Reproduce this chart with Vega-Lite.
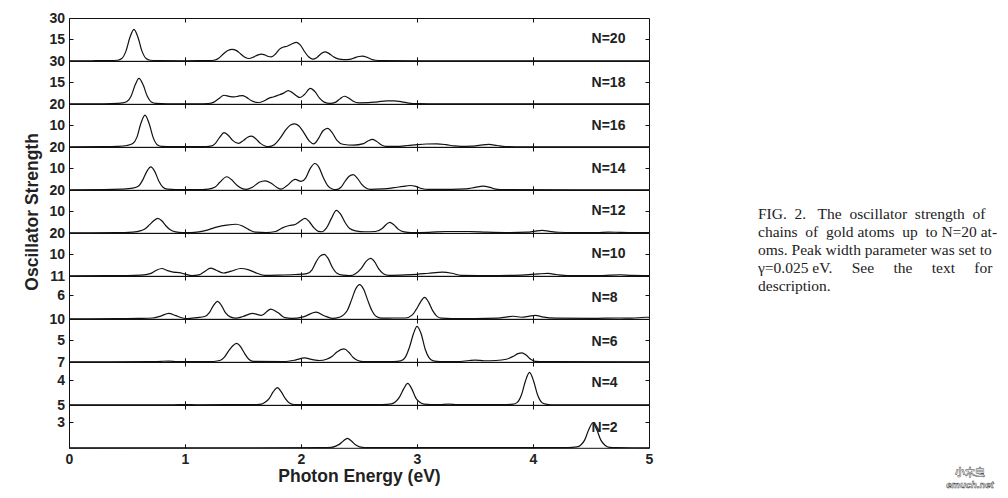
{
  "$schema": "https://vega.github.io/schema/vega-lite/v6.json",
  "background": "white",
  "padding": {"left": 23, "top": 10, "right": 0, "bottom": 0},
  "spacing": 104,
  "bounds": "full",
  "datasets": {
    "n20": [{"e":0,"f":0},{"e":0.2,"f":0.05},{"e":0.35,"f":0.15},{"e":0.42,"f":0.4},{"e":0.455,"f":1.6},{"e":0.49,"f":6.6},{"e":0.525,"f":16.3},{"e":0.56,"f":22},{"e":0.595,"f":16.3},{"e":0.63,"f":6.6},{"e":0.665,"f":1.6},{"e":0.7,"f":0.4},{"e":0.76,"f":0.1},{"e":1.0,"f":0.05},{"e":1.2,"f":0.1},{"e":1.25,"f":0.4},{"e":1.29,"f":1.8},{"e":1.33,"f":4.8},{"e":1.37,"f":7.2},{"e":1.406,"f":8.0},{"e":1.44,"f":7.3},{"e":1.48,"f":4.8},{"e":1.52,"f":2.3},{"e":1.55,"f":1.6},{"e":1.59,"f":2.6},{"e":1.63,"f":4.2},{"e":1.66,"f":4.7},{"e":1.69,"f":4.1},{"e":1.72,"f":3.0},{"e":1.745,"f":2.8},{"e":1.78,"f":4.8},{"e":1.815,"f":8.2},{"e":1.85,"f":9.7},{"e":1.88,"f":10.2},{"e":1.92,"f":11.8},{"e":1.96,"f":12.9},{"e":1.995,"f":11},{"e":2.03,"f":6.5},{"e":2.065,"f":2.8},{"e":2.1,"f":1.2},{"e":2.135,"f":2.2},{"e":2.17,"f":4.8},{"e":2.206,"f":6.3},{"e":2.24,"f":5.2},{"e":2.28,"f":2.8},{"e":2.32,"f":1.3},{"e":2.37,"f":0.8},{"e":2.42,"f":1.0},{"e":2.46,"f":2.0},{"e":2.5,"f":3.0},{"e":2.53,"f":3.3},{"e":2.565,"f":2.6},{"e":2.6,"f":1.3},{"e":2.64,"f":0.4},{"e":2.7,"f":0.1},{"e":3.0,"f":0.03},{"e":5,"f":0}],
    "n18": [{"e":0,"f":0},{"e":0.3,"f":0.05},{"e":0.42,"f":0.3},{"e":0.46,"f":0.6},{"e":0.5,"f":1.6},{"e":0.535,"f":5.3},{"e":0.57,"f":13.1},{"e":0.603,"f":17.8},{"e":0.64,"f":13.1},{"e":0.675,"f":5.3},{"e":0.71,"f":1.3},{"e":0.75,"f":0.3},{"e":0.85,"f":0.05},{"e":1.1,"f":0.05},{"e":1.2,"f":0.2},{"e":1.25,"f":1.2},{"e":1.29,"f":3.5},{"e":1.336,"f":6.0},{"e":1.38,"f":5.2},{"e":1.425,"f":4.8},{"e":1.46,"f":5.4},{"e":1.495,"f":5.8},{"e":1.53,"f":4.5},{"e":1.57,"f":2.3},{"e":1.63,"f":0.9},{"e":1.68,"f":2.0},{"e":1.72,"f":3.8},{"e":1.76,"f":4.8},{"e":1.8,"f":5.9},{"e":1.85,"f":7.5},{"e":1.89,"f":9.3},{"e":1.93,"f":7.5},{"e":1.99,"f":4.4},{"e":2.03,"f":6.5},{"e":2.08,"f":10.8},{"e":2.12,"f":8.5},{"e":2.16,"f":4.0},{"e":2.2,"f":1.2},{"e":2.25,"f":0.3},{"e":2.3,"f":1.2},{"e":2.34,"f":3.8},{"e":2.375,"f":5.3},{"e":2.41,"f":4.0},{"e":2.45,"f":1.8},{"e":2.5,"f":0.7},{"e":2.58,"f":0.8},{"e":2.66,"f":1.4},{"e":2.74,"f":2.0},{"e":2.8,"f":2.0},{"e":2.87,"f":1.4},{"e":2.93,"f":0.5},{"e":2.99,"f":0.1},{"e":3.1,"f":0.02},{"e":5,"f":0}],
    "n16": [{"e":0,"f":0},{"e":0.3,"f":0.05},{"e":0.42,"f":0.2},{"e":0.5,"f":0.6},{"e":0.55,"f":1.5},{"e":0.585,"f":4.4},{"e":0.62,"f":11},{"e":0.655,"f":14.8},{"e":0.69,"f":11},{"e":0.725,"f":4.4},{"e":0.76,"f":1.0},{"e":0.8,"f":0.2},{"e":0.9,"f":0.05},{"e":1.15,"f":0.05},{"e":1.22,"f":0.3},{"e":1.26,"f":1.5},{"e":1.3,"f":4.5},{"e":1.336,"f":6.6},{"e":1.37,"f":5.5},{"e":1.41,"f":3.0},{"e":1.46,"f":1.6},{"e":1.505,"f":3.0},{"e":1.54,"f":4.5},{"e":1.575,"f":5.0},{"e":1.61,"f":3.8},{"e":1.65,"f":1.6},{"e":1.69,"f":0.4},{"e":1.72,"f":0.1},{"e":1.77,"f":1.0},{"e":1.82,"f":4.0},{"e":1.87,"f":8.0},{"e":1.91,"f":10.2},{"e":1.946,"f":10.7},{"e":1.98,"f":9.8},{"e":2.02,"f":7.0},{"e":2.07,"f":2.8},{"e":2.11,"f":1.4},{"e":2.15,"f":3.8},{"e":2.19,"f":7.5},{"e":2.23,"f":8.6},{"e":2.27,"f":6.5},{"e":2.31,"f":3.0},{"e":2.36,"f":1.2},{"e":2.45,"f":0.8},{"e":2.54,"f":1.5},{"e":2.58,"f":2.8},{"e":2.616,"f":3.5},{"e":2.65,"f":2.6},{"e":2.69,"f":1.0},{"e":2.73,"f":0.2},{"e":2.82,"f":0.2},{"e":2.92,"f":0.6},{"e":3.0,"f":1.0},{"e":3.08,"f":1.3},{"e":3.17,"f":1.4},{"e":3.25,"f":1.0},{"e":3.32,"f":0.4},{"e":3.38,"f":0.2},{"e":3.47,"f":0.3},{"e":3.55,"f":0.8},{"e":3.62,"f":1.1},{"e":3.69,"f":0.6},{"e":3.76,"f":0.1},{"e":3.85,"f":0.02},{"e":5,"f":0}],
    "n14": [{"e":0,"f":0},{"e":0.3,"f":0.05},{"e":0.45,"f":0.3},{"e":0.55,"f":0.8},{"e":0.6,"f":1.8},{"e":0.635,"f":4.5},{"e":0.67,"f":8.5},{"e":0.705,"f":10.7},{"e":0.74,"f":8.5},{"e":0.775,"f":4.0},{"e":0.81,"f":1.2},{"e":0.85,"f":0.3},{"e":0.92,"f":0.1},{"e":1.1,"f":0.05},{"e":1.2,"f":0.3},{"e":1.26,"f":1.3},{"e":1.3,"f":3.5},{"e":1.36,"f":6.1},{"e":1.4,"f":4.8},{"e":1.45,"f":2.0},{"e":1.5,"f":0.4},{"e":1.53,"f":0.2},{"e":1.58,"f":1.2},{"e":1.64,"f":3.5},{"e":1.69,"f":4.2},{"e":1.74,"f":3.2},{"e":1.79,"f":1.2},{"e":1.83,"f":0.3},{"e":1.88,"f":2.0},{"e":1.95,"f":4.9},{"e":2.0,"f":3.9},{"e":2.04,"f":5.5},{"e":2.08,"f":10},{"e":2.12,"f":12.3},{"e":2.155,"f":10.5},{"e":2.19,"f":6.0},{"e":2.23,"f":2.0},{"e":2.27,"f":0.4},{"e":2.3,"f":0.1},{"e":2.345,"f":1.2},{"e":2.38,"f":4.0},{"e":2.415,"f":6.3},{"e":2.45,"f":7.1},{"e":2.485,"f":5.5},{"e":2.52,"f":2.8},{"e":2.56,"f":0.8},{"e":2.6,"f":0.2},{"e":2.7,"f":0.4},{"e":2.8,"f":1.0},{"e":2.88,"f":1.6},{"e":2.94,"f":2.0},{"e":2.99,"f":1.6},{"e":3.04,"f":0.6},{"e":3.1,"f":0.2},{"e":3.3,"f":0.2},{"e":3.42,"f":0.4},{"e":3.5,"f":1.1},{"e":3.57,"f":1.7},{"e":3.63,"f":1.1},{"e":3.68,"f":0.3},{"e":3.75,"f":0.05},{"e":5,"f":0}],
    "n12": [{"e":0,"f":0},{"e":0.4,"f":0.05},{"e":0.55,"f":0.3},{"e":0.62,"f":1.0},{"e":0.66,"f":2.0},{"e":0.695,"f":3.8},{"e":0.73,"f":5.6},{"e":0.765,"f":6.7},{"e":0.8,"f":5.6},{"e":0.835,"f":3.3},{"e":0.87,"f":1.5},{"e":0.92,"f":0.4},{"e":0.98,"f":0.1},{"e":1.05,"f":0.05},{"e":1.12,"f":0.4},{"e":1.2,"f":1.4},{"e":1.28,"f":2.8},{"e":1.36,"f":3.6},{"e":1.44,"f":4.0},{"e":1.49,"f":3.3},{"e":1.55,"f":1.5},{"e":1.61,"f":0.3},{"e":1.7,"f":0.1},{"e":1.78,"f":0.6},{"e":1.84,"f":2.3},{"e":1.9,"f":3.4},{"e":1.95,"f":3.9},{"e":1.995,"f":5.5},{"e":2.035,"f":6.7},{"e":2.07,"f":5.3},{"e":2.11,"f":2.4},{"e":2.15,"f":0.7},{"e":2.18,"f":0.5},{"e":2.22,"f":2.3},{"e":2.26,"f":6.5},{"e":2.305,"f":10.5},{"e":2.34,"f":8.8},{"e":2.38,"f":4.8},{"e":2.42,"f":2.0},{"e":2.47,"f":0.9},{"e":2.55,"f":0.5},{"e":2.64,"f":0.6},{"e":2.7,"f":2.0},{"e":2.735,"f":3.9},{"e":2.765,"f":4.9},{"e":2.8,"f":3.8},{"e":2.84,"f":1.6},{"e":2.89,"f":0.4},{"e":2.95,"f":0.1},{"e":3.1,"f":0.2},{"e":3.25,"f":0.6},{"e":3.45,"f":0.6},{"e":3.6,"f":0.3},{"e":3.8,"f":0.1},{"e":3.95,"f":0.3},{"e":4.02,"f":0.8},{"e":4.08,"f":1.1},{"e":4.14,"f":0.7},{"e":4.22,"f":0.25},{"e":4.35,"f":0.1},{"e":4.55,"f":0.1},{"e":4.65,"f":0.35},{"e":4.75,"f":0.2},{"e":4.9,"f":0.1},{"e":5,"f":0.1}],
    "n10": [{"e":0,"f":0},{"e":0.5,"f":0.1},{"e":0.62,"f":0.3},{"e":0.7,"f":1.0},{"e":0.75,"f":2.5},{"e":0.8,"f":3.4},{"e":0.85,"f":2.4},{"e":0.9,"f":1.7},{"e":0.95,"f":1.5},{"e":1.0,"f":0.8},{"e":1.06,"f":0.1},{"e":1.12,"f":0.4},{"e":1.17,"f":2.0},{"e":1.22,"f":3.6},{"e":1.27,"f":2.6},{"e":1.33,"f":1.3},{"e":1.4,"f":2.2},{"e":1.48,"f":3.4},{"e":1.55,"f":2.8},{"e":1.62,"f":1.2},{"e":1.69,"f":0.2},{"e":1.8,"f":0.3},{"e":1.95,"f":0.6},{"e":2.05,"f":1.0},{"e":2.095,"f":2.8},{"e":2.13,"f":6.5},{"e":2.165,"f":9.2},{"e":2.2,"f":10.0},{"e":2.235,"f":8.0},{"e":2.27,"f":4.0},{"e":2.31,"f":1.2},{"e":2.36,"f":0.3},{"e":2.42,"f":0.1},{"e":2.47,"f":1.0},{"e":2.52,"f":3.5},{"e":2.565,"f":7.0},{"e":2.6,"f":8.1},{"e":2.635,"f":6.5},{"e":2.67,"f":3.2},{"e":2.71,"f":1.0},{"e":2.76,"f":0.2},{"e":2.9,"f":0.4},{"e":3.0,"f":0.7},{"e":3.1,"f":1.2},{"e":3.22,"f":1.7},{"e":3.3,"f":1.2},{"e":3.38,"f":0.2},{"e":3.6,"f":0.1},{"e":3.9,"f":0.3},{"e":4.05,"f":0.9},{"e":4.13,"f":1.1},{"e":4.2,"f":0.6},{"e":4.3,"f":0.1},{"e":4.6,"f":0.1},{"e":4.75,"f":0.5},{"e":4.85,"f":0.2},{"e":5,"f":0.1}],
    "n8": [{"e":0,"f":0},{"e":0.4,"f":0.02},{"e":0.6,"f":0.1},{"e":0.72,"f":0.2},{"e":0.79,"f":0.7},{"e":0.86,"f":1.4},{"e":0.92,"f":0.8},{"e":0.98,"f":0.2},{"e":1.02,"f":0.05},{"e":1.1,"f":0.3},{"e":1.17,"f":0.6},{"e":1.21,"f":1.6},{"e":1.245,"f":3.4},{"e":1.28,"f":4.5},{"e":1.315,"f":3.4},{"e":1.35,"f":1.5},{"e":1.39,"f":0.5},{"e":1.44,"f":0.15},{"e":1.5,"f":0.6},{"e":1.58,"f":1.4},{"e":1.66,"f":0.9},{"e":1.74,"f":2.5},{"e":1.8,"f":1.6},{"e":1.86,"f":0.3},{"e":1.92,"f":0.1},{"e":2.02,"f":0.5},{"e":2.13,"f":1.7},{"e":2.2,"f":0.8},{"e":2.27,"f":0.1},{"e":2.33,"f":0.4},{"e":2.4,"f":2.2},{"e":2.435,"f":4.8},{"e":2.47,"f":7.6},{"e":2.505,"f":8.8},{"e":2.54,"f":7.6},{"e":2.575,"f":4.8},{"e":2.61,"f":2.2},{"e":2.65,"f":0.6},{"e":2.7,"f":0.15},{"e":2.8,"f":0.2},{"e":2.9,"f":0.2},{"e":2.96,"f":1.0},{"e":2.995,"f":2.5},{"e":3.03,"f":4.3},{"e":3.065,"f":5.5},{"e":3.1,"f":4.3},{"e":3.135,"f":2.1},{"e":3.17,"f":0.7},{"e":3.21,"f":0.15},{"e":3.3,"f":0.05},{"e":3.5,"f":0.05},{"e":3.7,"f":0.15},{"e":3.78,"f":0.5},{"e":3.83,"f":0.65},{"e":3.9,"f":0.4},{"e":3.96,"f":0.6},{"e":4.02,"f":0.9},{"e":4.08,"f":0.5},{"e":4.2,"f":0.15},{"e":4.5,"f":0.1},{"e":4.75,"f":0.2},{"e":4.85,"f":0.15},{"e":4.97,"f":0.4},{"e":5,"f":0.4}],
    "n6": [{"e":0,"f":0},{"e":0.7,"f":0.02},{"e":0.8,"f":0.12},{"e":0.86,"f":0.15},{"e":0.93,"f":0.05},{"e":1.2,"f":0.02},{"e":1.3,"f":0.3},{"e":1.34,"f":1.1},{"e":1.375,"f":2.5},{"e":1.41,"f":3.7},{"e":1.445,"f":4.3},{"e":1.48,"f":3.5},{"e":1.515,"f":1.9},{"e":1.55,"f":0.6},{"e":1.59,"f":0.1},{"e":1.85,"f":0.05},{"e":1.95,"f":0.4},{"e":2.03,"f":0.9},{"e":2.1,"f":0.5},{"e":2.16,"f":0.3},{"e":2.22,"f":0.6},{"e":2.27,"f":1.3},{"e":2.31,"f":2.3},{"e":2.37,"f":3.0},{"e":2.41,"f":2.3},{"e":2.45,"f":1.0},{"e":2.49,"f":0.3},{"e":2.54,"f":0.02},{"e":2.8,"f":0.02},{"e":2.86,"f":0.2},{"e":2.9,"f":1.1},{"e":2.935,"f":3.4},{"e":2.97,"f":6.6},{"e":3.0,"f":8.3},{"e":3.035,"f":6.6},{"e":3.07,"f":3.0},{"e":3.105,"f":0.9},{"e":3.14,"f":0.2},{"e":3.2,"f":0.02},{"e":3.35,"f":0.05},{"e":3.45,"f":0.3},{"e":3.5,"f":0.4},{"e":3.58,"f":0.25},{"e":3.68,"f":0.3},{"e":3.77,"f":0.6},{"e":3.83,"f":1.3},{"e":3.87,"f":1.9},{"e":3.905,"f":2.1},{"e":3.94,"f":1.6},{"e":3.98,"f":0.6},{"e":4.02,"f":0.1},{"e":4.1,"f":0.02},{"e":5,"f":0}],
    "n4": [{"e":0,"f":0},{"e":0.9,"f":0.01},{"e":1.0,"f":0.05},{"e":1.1,"f":0.01},{"e":1.62,"f":0.02},{"e":1.66,"f":0.1},{"e":1.69,"f":0.4},{"e":1.725,"f":1.0},{"e":1.76,"f":2.1},{"e":1.797,"f":2.8},{"e":1.83,"f":2.1},{"e":1.865,"f":1.0},{"e":1.9,"f":0.3},{"e":1.94,"f":0.05},{"e":2.7,"f":0.02},{"e":2.78,"f":0.15},{"e":2.815,"f":0.5},{"e":2.85,"f":1.3},{"e":2.885,"f":2.6},{"e":2.92,"f":3.5},{"e":2.955,"f":2.6},{"e":2.99,"f":1.1},{"e":3.025,"f":0.4},{"e":3.06,"f":0.1},{"e":3.12,"f":0.02},{"e":3.2,"f":0.05},{"e":3.27,"f":0.12},{"e":3.35,"f":0.03},{"e":3.75,"f":0.02},{"e":3.83,"f":0.1},{"e":3.865,"f":0.4},{"e":3.9,"f":1.6},{"e":3.935,"f":3.9},{"e":3.97,"f":5.3},{"e":4.005,"f":3.9},{"e":4.04,"f":1.6},{"e":4.075,"f":0.4},{"e":4.11,"f":0.1},{"e":4.16,"f":0.01},{"e":5,"f":0}],
    "n2": [{"e":0,"f":0},{"e":2.2,"f":0.01},{"e":2.26,"f":0.05},{"e":2.3,"f":0.2},{"e":2.33,"f":0.4},{"e":2.365,"f":0.8},{"e":2.4,"f":1.1},{"e":2.435,"f":0.8},{"e":2.47,"f":0.35},{"e":2.505,"f":0.1},{"e":2.55,"f":0.01},{"e":4.3,"f":0.01},{"e":4.38,"f":0.1},{"e":4.41,"f":0.3},{"e":4.445,"f":0.9},{"e":4.48,"f":2.1},{"e":4.515,"f":2.9},{"e":4.55,"f":2.1},{"e":4.585,"f":0.9},{"e":4.62,"f":0.3},{"e":4.66,"f":0.05},{"e":4.72,"f":0.01},{"e":5,"f":0}]
  },
  "hconcat": [
    {
      "spacing": 0,
      "bounds": "flush",
      "vconcat": [
        {"height": 42.8, "width": 580, "data": {"name": "n20"},
         "layer": [
          {"mark": {"type": "line", "interpolate": "monotone", "color": "#111", "strokeWidth": 1.2},
           "encoding": {
            "x": {"field": "e", "type": "quantitative", "scale": {"domain": [0, 5], "nice": false}, "axis": {"values": [1,2,3,4], "labels": false, "tickSize": -4, "domain": false, "grid": false, "title": null}},
            "y": {"field": "f", "type": "quantitative", "scale": {"domain": [0, 30], "nice": false}, "axis": {"values": [15, 30], "tickSize": -4, "labelPadding": 8.5, "domain": false, "grid": false, "title": null}}}},
          {"mark": {"type": "point", "opacity": 0},
           "encoding": {
            "x": {"field": "e", "type": "quantitative", "scale": {"domain": [0, 5], "nice": false}, "axis": {"orient": "top", "values": [1,2,3,4], "labels": false, "tickSize": -4, "domain": false, "grid": false, "title": null}},
            "y": {"field": "f", "type": "quantitative", "scale": {"domain": [0, 30], "nice": false}, "axis": {"orient": "right", "values": [15], "labels": false, "tickSize": -4, "domain": false, "grid": false, "title": null}}}},
          {"data": {"values": [{}]},
           "mark": {"type": "text", "align": "left", "baseline": "middle", "fontSize": 14, "fontWeight": "bold", "font": "Liberation Sans", "color": "#222"},
           "encoding": {"x": {"datum": 4.505, "type": "quantitative", "axis": null}, "y": {"datum": 15, "type": "quantitative", "axis": null}, "text": {"value": "N=20"}}}
         ],
         "resolve": {"axis": {"x": "independent", "y": "independent"}}},
        {"height": 42.8, "width": 580, "data": {"name": "n18"},
         "layer": [
          {"mark": {"type": "line", "interpolate": "monotone", "color": "#111", "strokeWidth": 1.2},
           "encoding": {
            "x": {"field": "e", "type": "quantitative", "scale": {"domain": [0, 5], "nice": false}, "axis": {"values": [1,2,3,4], "labels": false, "tickSize": -4, "domain": false, "grid": false, "title": null}},
            "y": {"field": "f", "type": "quantitative", "scale": {"domain": [0, 30], "nice": false}, "axis": {"values": [15, 30], "tickSize": -4, "labelPadding": 8.5, "domain": false, "grid": false, "title": null}}}},
          {"mark": {"type": "point", "opacity": 0},
           "encoding": {
            "x": {"field": "e", "type": "quantitative", "scale": {"domain": [0, 5], "nice": false}, "axis": {"orient": "top", "values": [1,2,3,4], "labels": false, "tickSize": -4, "domain": false, "grid": false, "title": null}},
            "y": {"field": "f", "type": "quantitative", "scale": {"domain": [0, 30], "nice": false}, "axis": {"orient": "right", "values": [15], "labels": false, "tickSize": -4, "domain": false, "grid": false, "title": null}}}},
          {"data": {"values": [{}]},
           "mark": {"type": "text", "align": "left", "baseline": "middle", "fontSize": 14, "fontWeight": "bold", "font": "Liberation Sans", "color": "#222"},
           "encoding": {"x": {"datum": 4.505, "type": "quantitative", "axis": null}, "y": {"datum": 14.9, "type": "quantitative", "axis": null}, "text": {"value": "N=18"}}}
         ],
         "resolve": {"axis": {"x": "independent", "y": "independent"}}},
        {"height": 42.8, "width": 580, "data": {"name": "n16"},
         "layer": [
          {"mark": {"type": "line", "interpolate": "monotone", "color": "#111", "strokeWidth": 1.2},
           "encoding": {
            "x": {"field": "e", "type": "quantitative", "scale": {"domain": [0, 5], "nice": false}, "axis": {"values": [1,2,3,4], "labels": false, "tickSize": -4, "domain": false, "grid": false, "title": null}},
            "y": {"field": "f", "type": "quantitative", "scale": {"domain": [0, 20], "nice": false}, "axis": {"values": [10, 20], "tickSize": -4, "labelPadding": 8.5, "domain": false, "grid": false, "title": null}}}},
          {"mark": {"type": "point", "opacity": 0},
           "encoding": {
            "x": {"field": "e", "type": "quantitative", "scale": {"domain": [0, 5], "nice": false}, "axis": {"orient": "top", "values": [1,2,3,4], "labels": false, "tickSize": -4, "domain": false, "grid": false, "title": null}},
            "y": {"field": "f", "type": "quantitative", "scale": {"domain": [0, 20], "nice": false}, "axis": {"orient": "right", "values": [10], "labels": false, "tickSize": -4, "domain": false, "grid": false, "title": null}}}},
          {"data": {"values": [{}]},
           "mark": {"type": "text", "align": "left", "baseline": "middle", "fontSize": 14, "fontWeight": "bold", "font": "Liberation Sans", "color": "#222"},
           "encoding": {"x": {"datum": 4.505, "type": "quantitative", "axis": null}, "y": {"datum": 9.9, "type": "quantitative", "axis": null}, "text": {"value": "N=16"}}}
         ],
         "resolve": {"axis": {"x": "independent", "y": "independent"}}},
        {"height": 42.8, "width": 580, "data": {"name": "n14"},
         "layer": [
          {"mark": {"type": "line", "interpolate": "monotone", "color": "#111", "strokeWidth": 1.2},
           "encoding": {
            "x": {"field": "e", "type": "quantitative", "scale": {"domain": [0, 5], "nice": false}, "axis": {"values": [1,2,3,4], "labels": false, "tickSize": -4, "domain": false, "grid": false, "title": null}},
            "y": {"field": "f", "type": "quantitative", "scale": {"domain": [0, 20], "nice": false}, "axis": {"values": [10, 20], "tickSize": -4, "labelPadding": 8.5, "domain": false, "grid": false, "title": null}}}},
          {"mark": {"type": "point", "opacity": 0},
           "encoding": {
            "x": {"field": "e", "type": "quantitative", "scale": {"domain": [0, 5], "nice": false}, "axis": {"orient": "top", "values": [1,2,3,4], "labels": false, "tickSize": -4, "domain": false, "grid": false, "title": null}},
            "y": {"field": "f", "type": "quantitative", "scale": {"domain": [0, 20], "nice": false}, "axis": {"orient": "right", "values": [10], "labels": false, "tickSize": -4, "domain": false, "grid": false, "title": null}}}},
          {"data": {"values": [{}]},
           "mark": {"type": "text", "align": "left", "baseline": "middle", "fontSize": 14, "fontWeight": "bold", "font": "Liberation Sans", "color": "#222"},
           "encoding": {"x": {"datum": 4.505, "type": "quantitative", "axis": null}, "y": {"datum": 9.6, "type": "quantitative", "axis": null}, "text": {"value": "N=14"}}}
         ],
         "resolve": {"axis": {"x": "independent", "y": "independent"}}},
        {"height": 42.8, "width": 580, "data": {"name": "n12"},
         "layer": [
          {"mark": {"type": "line", "interpolate": "monotone", "color": "#111", "strokeWidth": 1.2},
           "encoding": {
            "x": {"field": "e", "type": "quantitative", "scale": {"domain": [0, 5], "nice": false}, "axis": {"values": [1,2,3,4], "labels": false, "tickSize": -4, "domain": false, "grid": false, "title": null}},
            "y": {"field": "f", "type": "quantitative", "scale": {"domain": [0, 20], "nice": false}, "axis": {"values": [10, 20], "tickSize": -4, "labelPadding": 8.5, "domain": false, "grid": false, "title": "Oscillator Strength", "titlePadding": 7}}}},
          {"mark": {"type": "point", "opacity": 0},
           "encoding": {
            "x": {"field": "e", "type": "quantitative", "scale": {"domain": [0, 5], "nice": false}, "axis": {"orient": "top", "values": [1,2,3,4], "labels": false, "tickSize": -4, "domain": false, "grid": false, "title": null}},
            "y": {"field": "f", "type": "quantitative", "scale": {"domain": [0, 20], "nice": false}, "axis": {"orient": "right", "values": [10], "labels": false, "tickSize": -4, "domain": false, "grid": false, "title": null}}}},
          {"data": {"values": [{}]},
           "mark": {"type": "text", "align": "left", "baseline": "middle", "fontSize": 14, "fontWeight": "bold", "font": "Liberation Sans", "color": "#222"},
           "encoding": {"x": {"datum": 4.505, "type": "quantitative", "axis": null}, "y": {"datum": 10.1, "type": "quantitative", "axis": null}, "text": {"value": "N=12"}}}
         ],
         "resolve": {"axis": {"x": "independent", "y": "independent"}}},
        {"height": 42.8, "width": 580, "data": {"name": "n10"},
         "layer": [
          {"mark": {"type": "line", "interpolate": "monotone", "color": "#111", "strokeWidth": 1.2},
           "encoding": {
            "x": {"field": "e", "type": "quantitative", "scale": {"domain": [0, 5], "nice": false}, "axis": {"values": [1,2,3,4], "labels": false, "tickSize": -4, "domain": false, "grid": false, "title": null}},
            "y": {"field": "f", "type": "quantitative", "scale": {"domain": [0, 20], "nice": false}, "axis": {"values": [10, 20], "tickSize": -4, "labelPadding": 8.5, "domain": false, "grid": false, "title": null}}}},
          {"mark": {"type": "point", "opacity": 0},
           "encoding": {
            "x": {"field": "e", "type": "quantitative", "scale": {"domain": [0, 5], "nice": false}, "axis": {"orient": "top", "values": [1,2,3,4], "labels": false, "tickSize": -4, "domain": false, "grid": false, "title": null}},
            "y": {"field": "f", "type": "quantitative", "scale": {"domain": [0, 20], "nice": false}, "axis": {"orient": "right", "values": [10], "labels": false, "tickSize": -4, "domain": false, "grid": false, "title": null}}}},
          {"data": {"values": [{}]},
           "mark": {"type": "text", "align": "left", "baseline": "middle", "fontSize": 14, "fontWeight": "bold", "font": "Liberation Sans", "color": "#222"},
           "encoding": {"x": {"datum": 4.505, "type": "quantitative", "axis": null}, "y": {"datum": 10, "type": "quantitative", "axis": null}, "text": {"value": "N=10"}}}
         ],
         "resolve": {"axis": {"x": "independent", "y": "independent"}}},
        {"height": 42.8, "width": 580, "data": {"name": "n8"},
         "layer": [
          {"mark": {"type": "line", "interpolate": "monotone", "color": "#111", "strokeWidth": 1.2},
           "encoding": {
            "x": {"field": "e", "type": "quantitative", "scale": {"domain": [0, 5], "nice": false}, "axis": {"values": [1,2,3,4], "labels": false, "tickSize": -4, "domain": false, "grid": false, "title": null}},
            "y": {"field": "f", "type": "quantitative", "scale": {"domain": [0, 11], "nice": false}, "axis": {"values": [6, 11], "tickSize": -4, "labelPadding": 8.5, "domain": false, "grid": false, "title": null}}}},
          {"mark": {"type": "point", "opacity": 0},
           "encoding": {
            "x": {"field": "e", "type": "quantitative", "scale": {"domain": [0, 5], "nice": false}, "axis": {"orient": "top", "values": [1,2,3,4], "labels": false, "tickSize": -4, "domain": false, "grid": false, "title": null}},
            "y": {"field": "f", "type": "quantitative", "scale": {"domain": [0, 11], "nice": false}, "axis": {"orient": "right", "values": [6], "labels": false, "tickSize": -4, "domain": false, "grid": false, "title": null}}}},
          {"data": {"values": [{}]},
           "mark": {"type": "text", "align": "left", "baseline": "middle", "fontSize": 14, "fontWeight": "bold", "font": "Liberation Sans", "color": "#222"},
           "encoding": {"x": {"datum": 4.505, "type": "quantitative", "axis": null}, "y": {"datum": 5.4, "type": "quantitative", "axis": null}, "text": {"value": "N=8"}}}
         ],
         "resolve": {"axis": {"x": "independent", "y": "independent"}}},
        {"height": 42.8, "width": 580, "data": {"name": "n6"},
         "layer": [
          {"mark": {"type": "line", "interpolate": "monotone", "color": "#111", "strokeWidth": 1.2},
           "encoding": {
            "x": {"field": "e", "type": "quantitative", "scale": {"domain": [0, 5], "nice": false}, "axis": {"values": [1,2,3,4], "labels": false, "tickSize": -4, "domain": false, "grid": false, "title": null}},
            "y": {"field": "f", "type": "quantitative", "scale": {"domain": [0, 10], "nice": false}, "axis": {"values": [5, 10], "tickSize": -4, "labelPadding": 8.5, "domain": false, "grid": false, "title": null}}}},
          {"mark": {"type": "point", "opacity": 0},
           "encoding": {
            "x": {"field": "e", "type": "quantitative", "scale": {"domain": [0, 5], "nice": false}, "axis": {"orient": "top", "values": [1,2,3,4], "labels": false, "tickSize": -4, "domain": false, "grid": false, "title": null}},
            "y": {"field": "f", "type": "quantitative", "scale": {"domain": [0, 10], "nice": false}, "axis": {"orient": "right", "values": [5], "labels": false, "tickSize": -4, "domain": false, "grid": false, "title": null}}}},
          {"data": {"values": [{}]},
           "mark": {"type": "text", "align": "left", "baseline": "middle", "fontSize": 14, "fontWeight": "bold", "font": "Liberation Sans", "color": "#222"},
           "encoding": {"x": {"datum": 4.505, "type": "quantitative", "axis": null}, "y": {"datum": 4.7, "type": "quantitative", "axis": null}, "text": {"value": "N=6"}}}
         ],
         "resolve": {"axis": {"x": "independent", "y": "independent"}}},
        {"height": 42.8, "width": 580, "data": {"name": "n4"},
         "layer": [
          {"mark": {"type": "line", "interpolate": "monotone", "color": "#111", "strokeWidth": 1.2},
           "encoding": {
            "x": {"field": "e", "type": "quantitative", "scale": {"domain": [0, 5], "nice": false}, "axis": {"values": [1,2,3,4], "labels": false, "tickSize": -4, "domain": false, "grid": false, "title": null}},
            "y": {"field": "f", "type": "quantitative", "scale": {"domain": [0, 7], "nice": false}, "axis": {"values": [4, 7], "tickSize": -4, "labelPadding": 8.5, "domain": false, "grid": false, "title": null}}}},
          {"mark": {"type": "point", "opacity": 0},
           "encoding": {
            "x": {"field": "e", "type": "quantitative", "scale": {"domain": [0, 5], "nice": false}, "axis": {"orient": "top", "values": [1,2,3,4], "labels": false, "tickSize": -4, "domain": false, "grid": false, "title": null}},
            "y": {"field": "f", "type": "quantitative", "scale": {"domain": [0, 7], "nice": false}, "axis": {"orient": "right", "values": [4], "labels": false, "tickSize": -4, "domain": false, "grid": false, "title": null}}}},
          {"data": {"values": [{}]},
           "mark": {"type": "text", "align": "left", "baseline": "middle", "fontSize": 14, "fontWeight": "bold", "font": "Liberation Sans", "color": "#222"},
           "encoding": {"x": {"datum": 4.505, "type": "quantitative", "axis": null}, "y": {"datum": 3.5, "type": "quantitative", "axis": null}, "text": {"value": "N=4"}}}
         ],
         "resolve": {"axis": {"x": "independent", "y": "independent"}}},
        {"height": 42.8, "width": 580, "data": {"name": "n2"},
         "layer": [
          {"mark": {"type": "line", "interpolate": "monotone", "color": "#111", "strokeWidth": 1.2},
           "encoding": {
            "x": {"field": "e", "type": "quantitative", "scale": {"domain": [0, 5], "nice": false}, "axis": {"values": [0,1,2,3,4,5], "labelFlush": false, "tickSize": -4, "labelPadding": 8.5, "domain": false, "grid": false, "title": "Photon Energy (eV)", "titlePadding": 1}},
            "y": {"field": "f", "type": "quantitative", "scale": {"domain": [0, 5], "nice": false}, "axis": {"values": [3, 5], "tickSize": -4, "labelPadding": 8.5, "domain": false, "grid": false, "title": null}}}},
          {"mark": {"type": "point", "opacity": 0},
           "encoding": {
            "x": {"field": "e", "type": "quantitative", "scale": {"domain": [0, 5], "nice": false}, "axis": {"orient": "top", "values": [1,2,3,4], "labels": false, "tickSize": -4, "domain": false, "grid": false, "title": null}},
            "y": {"field": "f", "type": "quantitative", "scale": {"domain": [0, 5], "nice": false}, "axis": {"orient": "right", "values": [3], "labels": false, "tickSize": -4, "domain": false, "grid": false, "title": null}}}},
          {"data": {"values": [{}]},
           "mark": {"type": "text", "align": "left", "baseline": "middle", "fontSize": 14, "fontWeight": "bold", "font": "Liberation Sans", "color": "#222"},
           "encoding": {"x": {"datum": 4.505, "type": "quantitative", "axis": null}, "y": {"datum": 2.35, "type": "quantitative", "axis": null}, "text": {"value": "N=2"}}}
         ],
         "resolve": {"axis": {"x": "independent", "y": "independent"}}}
      ]
    },
    {
      "width": 240,
      "height": 428,
      "view": {"stroke": null},
      "layer": [
        {"data": {"values": [
          {"line": 1, "t": "FIG.\u00a0 2.\u00a0\u00a0 The\u00a0 oscillator\u00a0 strength\u00a0 of"},
          {"line": 2, "t": "chains\u00a0 of\u00a0 gold atoms\u00a0 up\u00a0 to N=20 at-"},
          {"line": 3, "t": "oms. Peak width parameter was set to"},
          {"line": 4, "t": "γ=0.025 eV.\u00a0\u00a0\u00a0\u00a0 See\u00a0\u00a0\u00a0\u00a0 the\u00a0\u00a0\u00a0\u00a0 text\u00a0\u00a0\u00a0\u00a0 for"},
          {"line": 5, "t": "description."}
         ]},
         "mark": {"type": "text", "align": "left", "baseline": "alphabetic", "font": "Liberation Serif", "fontSize": 15.5, "color": "#222"},
         "encoding": {
          "x": {"datum": 0, "type": "quantitative", "scale": {"domain": [0, 1], "nice": false, "zero": false}, "axis": null},
          "y": {"field": "line", "type": "quantitative", "scale": {"domain": [-10.23, 13.68], "reverse": true, "nice": false, "zero": false}, "axis": null},
          "text": {"field": "t"}}},
        {"data": {"values": [{}]},
         "mark": {"type": "text", "align": "center", "baseline": "middle", "font": "Noto Sans CJK SC", "fontSize": 10, "fontWeight": "bold", "fill": "white", "stroke": "#444", "strokeWidth": 0.5},
         "encoding": {
          "x": {"datum": 0.883, "type": "quantitative", "axis": null},
          "y": {"datum": 15.2, "type": "quantitative", "axis": null},
          "text": {"value": "小木虫"}}},
        {"data": {"values": [{}]},
         "mark": {"type": "text", "align": "center", "baseline": "middle", "font": "Liberation Sans", "fontSize": 9.5, "fontWeight": "bold", "fontStyle": "italic", "fill": "white", "stroke": "#444", "strokeWidth": 0.5},
         "encoding": {
          "x": {"datum": 0.883, "type": "quantitative", "axis": null},
          "y": {"datum": 15.85, "type": "quantitative", "axis": null},
          "text": {"value": "emuch.net"}}}
      ]
    }
  ],
  "config": {
    "view": {"stroke": "#111", "strokeWidth": 1},
    "axis": {"labelFont": "Liberation Sans", "labelFontSize": 14, "labelFontWeight": "bold", "labelColor": "#222", "tickColor": "#111", "tickWidth": 1, "titleFont": "Liberation Sans", "titleFontSize": 17.5, "titleFontWeight": "bold", "titleColor": "#222"}
  }
}
